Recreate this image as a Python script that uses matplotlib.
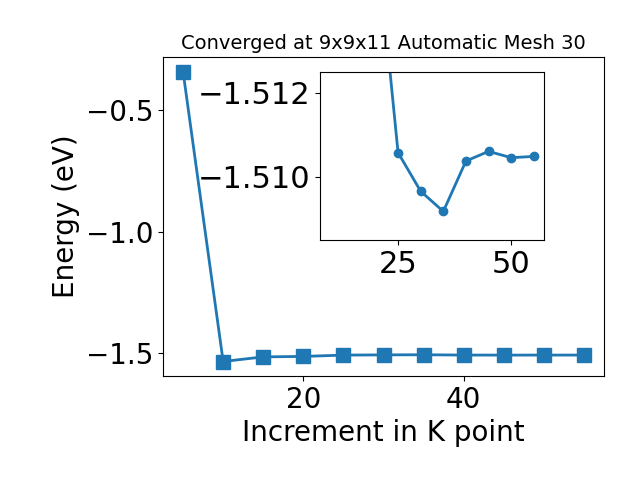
import matplotlib
matplotlib.use("Agg")
import matplotlib.pyplot as plt

kpoints = [5, 10, 15, 20, 25, 30, 35, 40, 45, 50, 55]
energy = [-0.339, -1.537, -1.518, -1.516, -1.51058, -1.50966, -1.50918,
          -1.51038, -1.51061, -1.51046, -1.51049]

fig = plt.figure(figsize=(6.4, 4.8), dpi=100)
ax = fig.add_axes([163/640, (480-376)/480, (604-163)/640, (376-57)/480])
ax.plot(kpoints, energy, marker='s', markersize=10, linewidth=2, color='#1f77b4')
ax.set_title("Converged at 9x9x11 Automatic Mesh 30", fontsize=14)
ax.set_xlabel("Increment in K point", fontsize=20)
ax.set_ylabel("Energy (eV)", fontsize=20)
ax.tick_params(labelsize=20)

ins = fig.add_axes([0.5, 0.5, 0.35, 0.35])
ins.plot(kpoints[1:], energy[1:], marker='o', markersize=6, linewidth=2, color='#1f77b4')
ins.set_ylim(-1.5085, -1.5125)
ins.set_yticks([-1.512, -1.510])
ins.set_xticks([25, 50])
ins.tick_params(labelsize=22)

fig.savefig("out.png", dpi=100)
